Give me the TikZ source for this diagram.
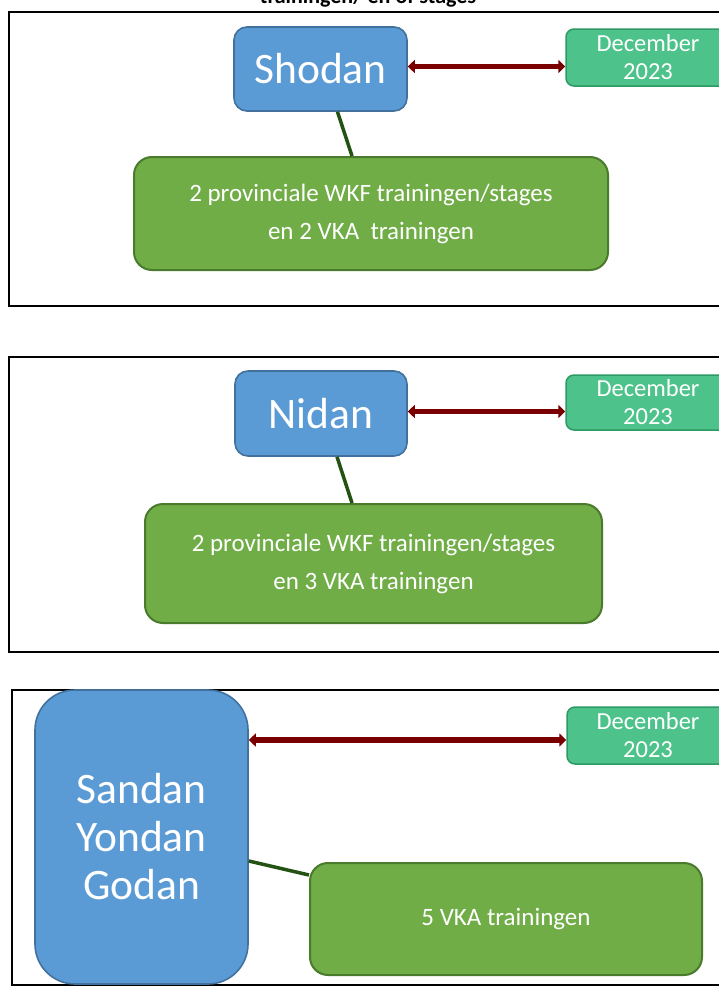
\documentclass[tikz,border=0pt]{standalone}
\usepackage{fontspec}
\setmainfont{Carlito}
\usetikzlibrary{arrows.meta,calc}
\definecolor{bluefill}{HTML}{5B9BD5}
\definecolor{blueline}{HTML}{41719C}
\definecolor{greenfill}{HTML}{70AD47}
\definecolor{greenline}{HTML}{4A7A2C}
\definecolor{tealfill}{HTML}{4DC38B}
\definecolor{tealline}{HTML}{2E9A63}
\definecolor{arrowred}{HTML}{7A0000}
\definecolor{linkgreen}{HTML}{235212}
\tikzset{
  frame/.style={draw=black, line width=1.6pt},
  rankbox/.style={draw=blueline, line width=1.6pt, fill=bluefill, text=white, rounded corners=13pt,
     align=center, inner sep=0pt, font=\fontsize{43.5}{48}\selectfont},
  datebox/.style={draw=tealline, line width=1.5pt, fill=tealfill, text=white, rounded corners=8pt,
     align=center, inner sep=0pt, font=\fontsize{24.5}{28}\selectfont},
  taskbox/.style={draw=greenline, line width=2pt, fill=greenfill, text=white, rounded corners=18pt,
     align=center, inner sep=0pt, font=\fontsize{25}{38}\selectfont},
  dblarrow/.style={draw=arrowred, line width=5.5pt, {Triangle[length=7pt,width=13pt]}-{Triangle[length=7pt,width=13pt]}},
  link/.style={draw=linkgreen, line width=3.5pt},
  heading/.style={font=\bfseries\fontsize{22}{26}\selectfont, inner sep=0pt, anchor=base}
}
\begin{document}
\begin{tikzpicture}[x=1pt,y=-1pt]
\useasboundingbox (0,0) rectangle (719,993);
\clip (0,0) rectangle (719,993);
\fill[white] (0,0) rectangle (719,993);
\node[heading] (head) at (368,4) {trainingen/ en of stages};

% frame 1
\draw[frame] (9,12) rectangle (735,306);
\node[rankbox, minimum width=173pt, minimum height=84pt] (shodan) at (320.5,69) {Shodan};
\node[datebox, minimum width=164pt, minimum height=57pt] (dec1) at (648,57.5) {December\\2023};
\node[taskbox, minimum width=474pt, minimum height=113pt] (g1) at (371,213.5) {2 provinciale WKF trainingen/stages\\en 2 VKA\ \ trainingen};
\draw[dblarrow] ([yshift=2.5pt]shodan.east) -- ([yshift=2.5pt]shodan.east -| dec1.west);
\draw[link] ([xshift=17pt]shodan.south) -- ([xshift=-19pt]g1.north);

% frame 2
\draw[frame] (9,357) rectangle (735,652);
\node[rankbox, minimum width=172pt, minimum height=85pt] (nidan) at (321,413.5) {Nidan};
\node[datebox, minimum width=164pt, minimum height=55pt] (dec2) at (648,402.5) {December\\2023};
\node[taskbox, minimum width=457pt, minimum height=119pt] (g2) at (373.5,563.5) {2 provinciale WKF trainingen/stages\\en 3 VKA trainingen};
\draw[dblarrow] ([yshift=2pt]nidan.east) -- ([yshift=2pt]nidan.east -| dec2.west);
\draw[link] ([xshift=16pt]nidan.south) -- ([xshift=-21.5pt]g2.north);

% frame 3
\draw[frame] (12,690) rectangle (735,985);
\node[rankbox, rounded corners=40pt, minimum width=213pt, minimum height=294pt] (sandan) at (141.5,837) {Sandan\\Yondan\\Godan};
\node[datebox, minimum width=162pt, minimum height=57pt] (dec3) at (648,735.5) {December\\2023};
\node[taskbox, minimum width=392pt, minimum height=112pt] (g3) at (506,919) {5 VKA trainingen};
\draw[dblarrow] ([yshift=97pt]sandan.east) -- ([yshift=97pt]sandan.east -| dec3.west);
\draw[link] ([yshift=-24pt]sandan.east) -- ([yshift=44pt]g3.west);
\end{tikzpicture}
\end{document}
